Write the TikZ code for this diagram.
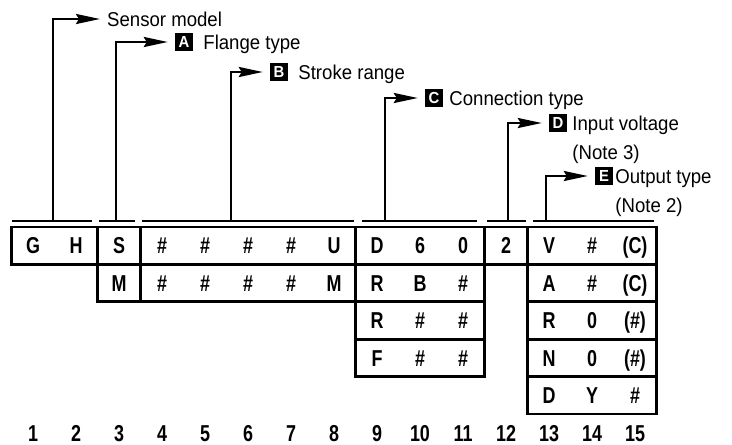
\documentclass[tikz,border=0pt]{standalone}
\usepackage{fontspec}
\setmainfont{Liberation Sans}[FakeStretch=0.93]
\newfontfamily\cellfont{Liberation Sans}[FakeStretch=0.78]
\usetikzlibrary{positioning,arrows.meta}

\begin{document}
\begin{tikzpicture}[x=1pt, y=-1pt, rule/.style={line width=2.8pt}, lead/.style={line width=2.5pt, -{Stealth[length=24pt,width=10pt,inset=3pt]}, shorten >=7pt}, cell/.style={font=\cellfont\bfseries\fontsize{23}{23}\selectfont, inner sep=0pt, text height=16.5pt, text depth=0pt}, keybox/.style={fill=black, text=white, font=\bfseries\fontsize{16}{16}\selectfont, minimum size=18pt, inner sep=0pt, text height=11.5pt, text depth=0pt}, keytext/.style={font=\fontsize{20}{20}\selectfont, inner sep=0pt, text height=14.3pt, text depth=0pt}]
\useasboundingbox (0,0) rectangle (732,445);
\foreach \a/\b/\n in {1/2/1, 3/3/2, 4/8/2, 9/11/4, 12/12/1, 13/15/5}
  \foreach \r in {1,...,\n}
    \draw[rule] ({11.5+43*(\a-1)}, {227+37.4*(\r-1)}) rectangle ({11.5+43*\b}, {227+37.4*\r});
\foreach \r/\s/\l in {1/1/{G,H,S,\#,\#,\#,\#,U,D,6,0,2,V,\#,(C)}, 2/3/{M,\#,\#,\#,\#,M,R,B,\#}, 2/13/{A,\#,(C)}, 3/9/{R,\#,\#}, 3/13/{R,0,(\#)}, 4/9/{F,\#,\#}, 4/13/{N,0,(\#)}, 5/13/{D,Y,\#}}
  \foreach \t [count=\c from \s] in \l
    \node[cell] (r\r c\c) at ({33+43*(\c-1)}, {227+37.4*(\r-0.5)}) {\t};
\foreach \c in {1,...,15}
  \node[cell] (n\c) at ({33+43*(\c-1)}, 433) {\c};
\foreach \p/\q/\m [count=\i] in {12/92/53, 99/135/116, 142/354/231, 362/477/385, 487/526/508, 533/654/546} {
  \draw[rule, line width=2.5pt] (\p,221) -- (\q,221);
  \coordinate (b\i) at (\m,221);
}
\node[keytext, anchor=west] (model) at (107,19) {Sensor model};
\node[keybox] (boxA) at (184,42) {A};
\node[keytext, right=10pt of boxA] (flange) {Flange type};
\node[keybox] (boxB) at (279,72) {B};
\node[keytext, right=10pt of boxB] (stroke) {Stroke range};
\node[keybox] (boxC) at (434,98) {C};
\node[keytext, right=6pt of boxC] (conn) {Connection type};
\node[keybox] (boxD) at (558,123) {D};
\node[keytext, right=5pt of boxD] (volt) {Input voltage};
\node[keytext, below=14.5pt of volt.south west, anchor=north west] (note3) {(Note 3)};
\node[keybox] (boxE) at (604,176) {E};
\node[keytext, right=2pt of boxE] (out) {Output type};
\node[keytext, below=14.5pt of out.south west, anchor=north west] (note2) {(Note 2)};
\foreach \i/\k in {1/model, 2/boxA, 3/boxB, 4/boxC, 5/boxD, 6/boxE}
  \draw[lead] (b\i) |- (\k.west);
\end{tikzpicture}
\end{document}
